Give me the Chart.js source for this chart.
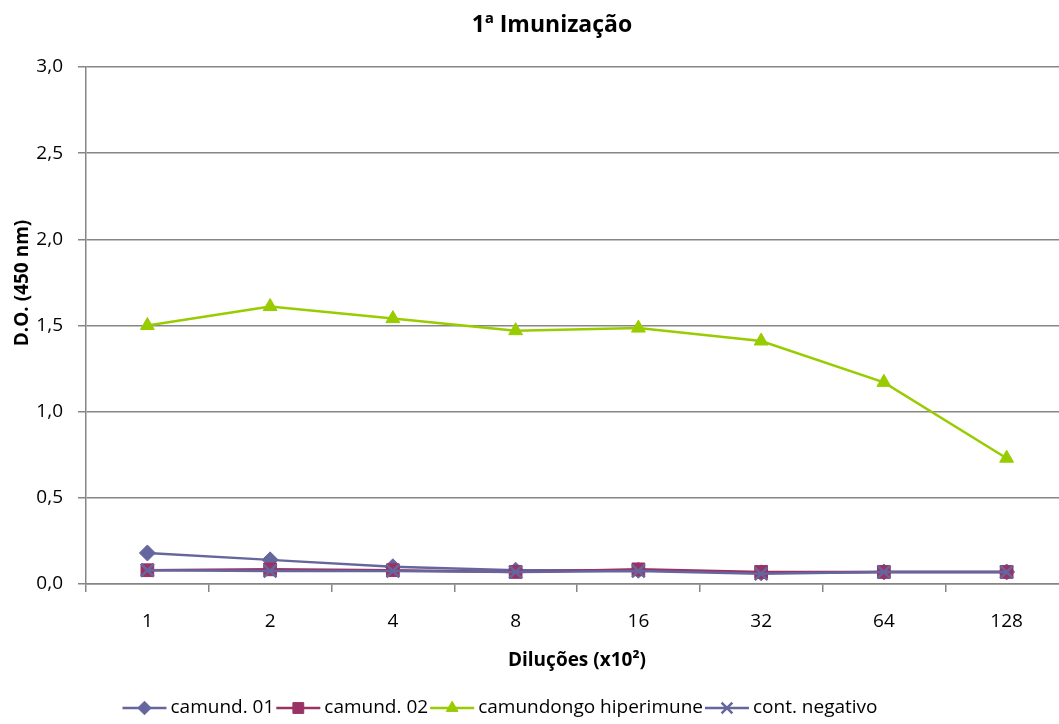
<!DOCTYPE html>
<html>
<head>
<meta charset="utf-8">
<script src="https://cdn.jsdelivr.net/npm/chart.js@4.4.1/dist/chart.umd.min.js"></script>
<style>
  html, body { margin: 0; padding: 0; overflow: hidden; background: #fff; }
</style>
</head>
<body>
<canvas id="myChart" width="1080" height="724"></canvas>
<script>
// data
const diluicoes = ["1", "2", "4", "8", "16", "32", "64", "128"];
const camund01 = [0.18, 0.14, 0.10, 0.08, 0.08, 0.065, 0.07, 0.07];
const camund02 = [0.08, 0.085, 0.08, 0.07, 0.085, 0.07, 0.07, 0.07];
const hiperimune = [1.50, 1.61, 1.54, 1.47, 1.485, 1.41, 1.17, 0.73];
const contNegativo = [0.08, 0.075, 0.075, 0.07, 0.075, 0.06, 0.07, 0.07];
const yTicks = [0, 0.5, 1.0, 1.5, 2.0, 2.5, 3.0];

const FONT = "'Open Sans', 'Liberation Sans', sans-serif";
const GRID = "#868686";

function makeSet(label, data, color, style, radius, order) {
  return {
    label: label,
    data: data,
    borderColor: color,
    backgroundColor: color,
    pointBackgroundColor: color,
    pointBorderColor: color,
    pointStyle: style,
    pointRadius: radius,
    pointHoverRadius: radius,
    pointBorderWidth: style === "crossRot" ? 2.5 : 1,
    borderWidth: 2.5,
    tension: 0,
    order: order
  };
}

// title, y title and line-and-marker legend, Excel style
const decorPlugin = {
  id: "decor",
  afterDraw(chart) {
    const ctx = chart.ctx;
    ctx.save();
    ctx.fillStyle = "#000";
    ctx.font = "bold 23px " + FONT;
    ctx.textAlign = "center";
    ctx.textBaseline = "middle";
    ctx.fillText("1ª Imunização", 552, 25);

    // y axis title
    ctx.save();
    ctx.translate(23, 283);
    ctx.rotate(-Math.PI / 2);
    ctx.font = "bold 19px " + FONT;
    ctx.fillText("D.O. (450 nm)", 0, 0);
    ctx.restore();

    ctx.font = "19px " + FONT;
    ctx.textAlign = "left";
    const lineLen = 44;
    const sets = chart.data.datasets;
    let total = 0;
    sets.forEach(ds => { total += lineLen + 4 + ctx.measureText(ds.label).width + 2; });
    let x = 501 - total / 2;
    const y = 708;
    sets.forEach(ds => {
      ctx.strokeStyle = ds.borderColor;
      ctx.lineWidth = 2.5;
      ctx.beginPath();
      ctx.moveTo(x, y);
      ctx.lineTo(x + lineLen, y);
      ctx.stroke();
      ctx.fillStyle = ds.borderColor;
      ctx.lineWidth = ds.pointBorderWidth;
      Chart.helpers.drawPoint(ctx, {
        pointStyle: ds.pointStyle,
        radius: ds.pointRadius * 0.85,
        rotation: 0,
        borderWidth: ds.pointBorderWidth
      }, x + lineLen / 2, y);
      ctx.fillStyle = "#000";
      ctx.fillText(ds.label, x + lineLen + 4, y);
      x += lineLen + 4 + ctx.measureText(ds.label).width + 2;
    });
    ctx.restore();
  }
};

const myChart = new Chart(document.getElementById("myChart"), {
  type: "line",
  data: {
    labels: diluicoes,
    datasets: [
      makeSet("camund. 01", camund01, "#66669E", "rectRot", 8, 4),
      makeSet("camund. 02", camund02, "#993366", "rect", 9, 3),
      makeSet("camundongo hiperimune", hiperimune, "#99CC00", "triangle", 8, 2),
      makeSet("cont. negativo", contNegativo, "#66669E", "crossRot", 9, 1)
    ]
  },
  options: {
    responsive: false,
    animation: false,
    layout: { padding: { top: 67, right: 12, bottom: 40, left: 0 } },
    plugins: {
      legend: { display: false },
      title: { display: false },
      tooltip: { enabled: false }
    },
    scales: {
      x: {
        offset: true,
        afterFit(scale) { scale.height = 100; },
        grid: {
          offset: true,
          drawOnChartArea: false,
          color: GRID,
          tickLength: 8,
          lineWidth: 1.5
        },
        border: { color: GRID, width: 1.5 },
        ticks: { color: "#000", font: { family: FONT, size: 19 }, padding: 18 },
        title: {
          display: true,
          text: "Diluções (x10²)",
          color: "#000",
          font: { family: FONT, size: 19, weight: "bold" },
          padding: { top: 0, bottom: 12 }
        }
      },
      y: {
        min: 0,
        max: 3,
        afterBuildTicks(scale) {
          scale.ticks = yTicks.map(v => ({ value: v }));
        },
        afterFit(scale) { scale.width = 86; },
        grid: { color: GRID, tickLength: 8, lineWidth: 1.5 },
        border: { color: GRID, width: 1.5 },
        ticks: {
          color: "#000",
          font: { family: FONT, size: 19 },
          padding: 15,
          callback: v => v.toFixed(1).replace(".", ",")
        }
      }
    }
  },
  plugins: [decorPlugin]
});
</script>
</body>
</html>
